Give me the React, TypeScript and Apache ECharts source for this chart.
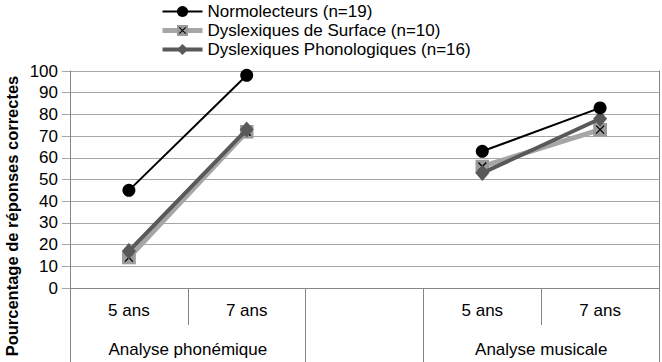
import React, { useEffect, useRef } from "react";
import * as echarts from "echarts";

const categories = ["5 ans", "7 ans", "", "5 ans", "7 ans"];
const groupLabels = ["Analyse phonémique", "Analyse musicale"];
const seriesNames = [
  "Normolecteurs (n=19)",
  "Dyslexiques de Surface (n=10)",
  "Dyslexiques Phonologiques (n=16)",
];
const normolecteurs = [45, 98, null, 63, 83];
const surface = [14, 72, null, 56, 73];
const phonologiques = [17, 73, null, 53, 78];
const yTicks = { min: 0, max: 100, interval: 10 };
const yTitle = "Pourcentage de réponses correctes";

const FONT = "'Liberation Sans', Arial, sans-serif";
const GRID_COLOR = "#a6a6a6";
const AXIS_COLOR = "#868686";
const lineWidths = [2, 5, 4];

const squareX =
  "image://data:image/svg+xml;utf8," +
  encodeURIComponent(
    "<svg xmlns='http://www.w3.org/2000/svg' width='14' height='14' viewBox='0 0 14 14'><rect x='0' y='0' width='14' height='14' fill='#9b9b9b'/><path d='M3 3L11 11M11 3L3 11' stroke='#000' stroke-width='1.3'/></svg>"
  );

export default function App() {
  const ref = useRef<HTMLDivElement>(null);
  useEffect(() => {
    document.body.style.margin = "0";
    const chart = echarts.init(ref.current!, null, { renderer: "svg" });
    // boundary points: group label sits at the boundary between its two categories
    const boundaryData = ["", groupLabels[0], "", "", groupLabels[1], ""];
    chart.setOption({
      animation: false,
      textStyle: { fontFamily: FONT },
      grid: { left: 70, right: 1, top: 71, bottom: 74, containLabel: false },
      legend: {
        orient: "vertical",
        left: 160,
        top: 3,
        padding: 0,
        itemWidth: 40,
        itemHeight: 14,
        itemGap: 2,
        textStyle: { fontSize: 17, color: "#000", fontFamily: FONT },
        data: seriesNames.map((name, i) => ({
          name,
          lineStyle: { width: lineWidths[i] },
        })),
      },
      xAxis: [
        {
          type: "category",
          position: "bottom",
          offset: 0,
          data: categories,
          boundaryGap: true,
          axisLine: { show: true, lineStyle: { color: AXIS_COLOR, width: 1 } },
          axisTick: { show: false },
          axisLabel: { interval: 0, fontSize: 17, color: "#000", margin: 14 },
        },
        {
          type: "category",
          position: "bottom",
          offset: 0,
          data: boundaryData,
          boundaryGap: false,
          axisLine: { show: false },
          axisTick: {
            show: true,
            length: 75,
            interval: (i: number) => i === 0 || i === 2 || i === 3 || i === 5,
            lineStyle: { color: AXIS_COLOR },
          },
          axisLabel: { interval: 0, fontSize: 17, color: "#000", margin: 53 },
        },
        {
          type: "category",
          position: "bottom",
          offset: 0,
          data: boundaryData,
          boundaryGap: false,
          axisLine: { show: false },
          axisTick: {
            show: true,
            length: 37,
            interval: (i: number) => i === 1 || i === 4,
            lineStyle: { color: AXIS_COLOR },
          },
          axisLabel: { show: false },
        },
      ],
      yAxis: [
        {
          type: "value",
          position: "left",
          min: yTicks.min,
          max: yTicks.max,
          interval: yTicks.interval,
          axisLine: { show: true, lineStyle: { color: AXIS_COLOR } },
          axisTick: { show: true, length: 8, lineStyle: { color: GRID_COLOR } },
          axisLabel: { fontSize: 17, color: "#000", margin: 12 },
          splitLine: { show: true, lineStyle: { color: GRID_COLOR, width: 1 } },
        },
        {
          type: "value",
          position: "right",
          min: yTicks.min,
          max: yTicks.max,
          interval: yTicks.interval,
          axisLine: { show: true, lineStyle: { color: AXIS_COLOR } },
          axisTick: { show: false },
          axisLabel: { show: false },
          splitLine: { show: false },
        },
      ],
      graphic: [
        {
          type: "text",
          x: 12,
          y: 216,
          rotation: Math.PI / 2,
          style: {
            text: yTitle,
            font: `bold 16.5px ${FONT}`,
            fill: "#000",
            align: "center",
            verticalAlign: "middle",
          },
        },
      ],
      series: [
        {
          name: seriesNames[1],
          type: "line",
          data: surface,
          z: 2,
          symbol: squareX,
          symbolSize: 14,
          lineStyle: { color: "#a6a6a6", width: lineWidths[1] },
          itemStyle: { color: "#a6a6a6" },
        },
        {
          name: seriesNames[2],
          type: "line",
          data: phonologiques,
          z: 3,
          symbol: "diamond",
          symbolSize: [14, 16],
          lineStyle: { color: "#595959", width: lineWidths[2] },
          itemStyle: { color: "#595959" },
        },
        {
          name: seriesNames[0],
          type: "line",
          data: normolecteurs,
          z: 4,
          symbol: "circle",
          symbolSize: 13,
          lineStyle: { color: "#000", width: lineWidths[0] },
          itemStyle: { color: "#000" },
        },
      ],
    });
    return () => chart.dispose();
  }, []);
  return <div ref={ref} style={{ width: 662, height: 362 }} />;
}
